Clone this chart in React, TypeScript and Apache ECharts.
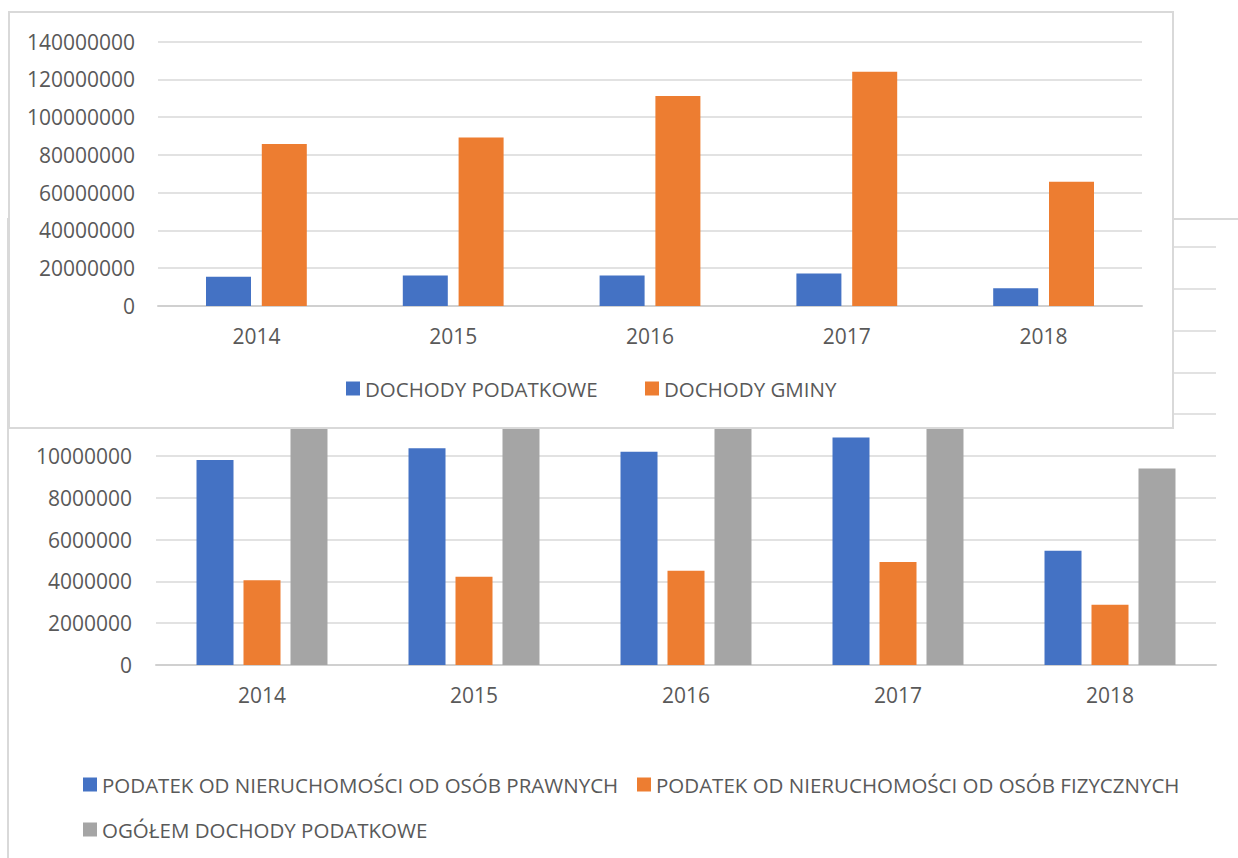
import React, { useEffect, useRef } from "react";
import * as echarts from "echarts";

const years = ["2014", "2015", "2016", "2017", "2018"];

const topNames = ["DOCHODY PODATKOWE", "DOCHODY GMINY"];
const dochodyPodatkowe = [15500000, 16200000, 16200000, 17200000, 9400000];
const dochodyGminy = [85700000, 89200000, 111100000, 124000000, 65800000];

const bottomNames = [
  "PODATEK OD NIERUCHOMOŚCI OD OSÓB PRAWNYCH",
  "PODATEK OD NIERUCHOMOŚCI OD OSÓB FIZYCZNYCH",
  "OGÓŁEM DOCHODY PODATKOWE",
];
const podatekPrawnych = [9810000, 10370000, 10200000, 10880000, 5470000];
const podatekFizycznych = [4050000, 4220000, 4510000, 4930000, 2880000];
const ogolemPodatkowe = [15500000, 16200000, 16200000, 17200000, 9400000];

const BLUE = "#4472C4";
const ORANGE = "#ED7D31";
const GREY = "#A5A5A5";
const TEXT = "#595959";
const GRID = "#d9d9d9";
const FONT = "'Open Sans', 'Noto Sans', sans-serif";

const legendBase = {
  orient: "horizontal",
  icon: "rect",
  itemWidth: 14,
  itemHeight: 14,
  padding: 0,
  selectedMode: false,
  textStyle: { color: TEXT, fontSize: 20.5, fontFamily: FONT },
};

export default function App() {
  const topRef = useRef<HTMLDivElement>(null);
  const bottomRef = useRef<HTMLDivElement>(null);

  useEffect(() => {
    const bottom = echarts.init(bottomRef.current!, undefined, { renderer: "svg" });
    bottom.setOption({
      animation: false,
      grid: { left: 156, right: 22, top: 247, bottom: 193, containLabel: false },
      legend: [
        { ...legendBase, data: [bottomNames[0]], left: 83, top: 774 },
        { ...legendBase, data: [bottomNames[1]], left: 637, top: 774 },
        { ...legendBase, data: [bottomNames[2]], left: 83, top: 819 },
      ],
      xAxis: {
        type: "category",
        data: years,
        axisTick: { show: false },
        axisLine: { lineStyle: { color: "#d0d0d0", width: 2 } },
        axisLabel: { color: TEXT, fontSize: 21, fontFamily: FONT, margin: 19 },
      },
      yAxis: {
        type: "value",
        min: 0,
        max: 20000000,
        interval: 2000000,
        axisLine: { show: false },
        axisTick: { show: false },
        splitLine: { lineStyle: { color: GRID, width: 1.5 } },
        axisLabel: {
          color: TEXT,
          fontSize: 21,
          fontFamily: FONT,
          margin: 24,
          formatter: (v: number) => (v > 10000000 ? "" : String(v)),
        },
      },
      series: [
        { name: bottomNames[0], type: "bar", data: podatekPrawnych, barWidth: 37, barGap: "27%", itemStyle: { color: BLUE } },
        { name: bottomNames[1], type: "bar", data: podatekFizycznych, barWidth: 37, barGap: "27%", itemStyle: { color: ORANGE } },
        { name: bottomNames[2], type: "bar", data: ogolemPodatkowe, barWidth: 37, barGap: "27%", itemStyle: { color: GREY } },
      ],
    });

    const top = echarts.init(topRef.current!, undefined, { renderer: "svg" });
    top.setOption({
      animation: false,
      grid: { left: 158, right: 96, top: 41.5, bottom: 552, containLabel: false },
      legend: [
        { ...legendBase, data: [topNames[0]], left: 346, top: 378 },
        { ...legendBase, data: [topNames[1]], left: 645, top: 378 },
      ],
      xAxis: {
        type: "category",
        data: years,
        axisTick: { show: false },
        axisLine: { lineStyle: { color: "#d0d0d0", width: 2 } },
        axisLabel: { color: TEXT, fontSize: 21, fontFamily: FONT, margin: 19 },
      },
      yAxis: {
        type: "value",
        min: 0,
        max: 140000000,
        interval: 20000000,
        axisLine: { show: false },
        axisTick: { show: false },
        splitLine: { lineStyle: { color: GRID, width: 1.5 } },
        axisLabel: {
          color: TEXT,
          fontSize: 21,
          fontFamily: FONT,
          margin: 23,
          formatter: (v: number) => String(v),
        },
      },
      series: [
        { name: topNames[0], type: "bar", data: dochodyPodatkowe, barWidth: 45, barGap: "24%", itemStyle: { color: BLUE } },
        { name: topNames[1], type: "bar", data: dochodyGminy, barWidth: 45, barGap: "24%", itemStyle: { color: ORANGE } },
      ],
    });

    return () => {
      top.dispose();
      bottom.dispose();
    };
  }, []);

  return (
    <div
      style={{
        position: "fixed",
        left: 0,
        top: 0,
        width: 1238,
        height: 858,
        overflow: "hidden",
        background: "#fff",
      }}
    >
      <div ref={bottomRef} style={{ position: "absolute", left: 0, top: 0, width: 1238, height: 858 }} />
      <div
        style={{
          position: "absolute",
          left: 7,
          top: 218,
          width: 1400,
          height: 1000,
          borderLeft: `2px solid ${GRID}`,
          borderTop: `2px solid ${GRID}`,
          pointerEvents: "none",
        }}
      />
      <div
        style={{
          position: "absolute",
          left: 8,
          top: 11,
          width: 1166,
          height: 418,
          boxSizing: "border-box",
          border: `2px solid ${GRID}`,
          background: "#fff",
        }}
      />
      <div ref={topRef} style={{ position: "absolute", left: 0, top: 0, width: 1238, height: 858 }} />
    </div>
  );
}
